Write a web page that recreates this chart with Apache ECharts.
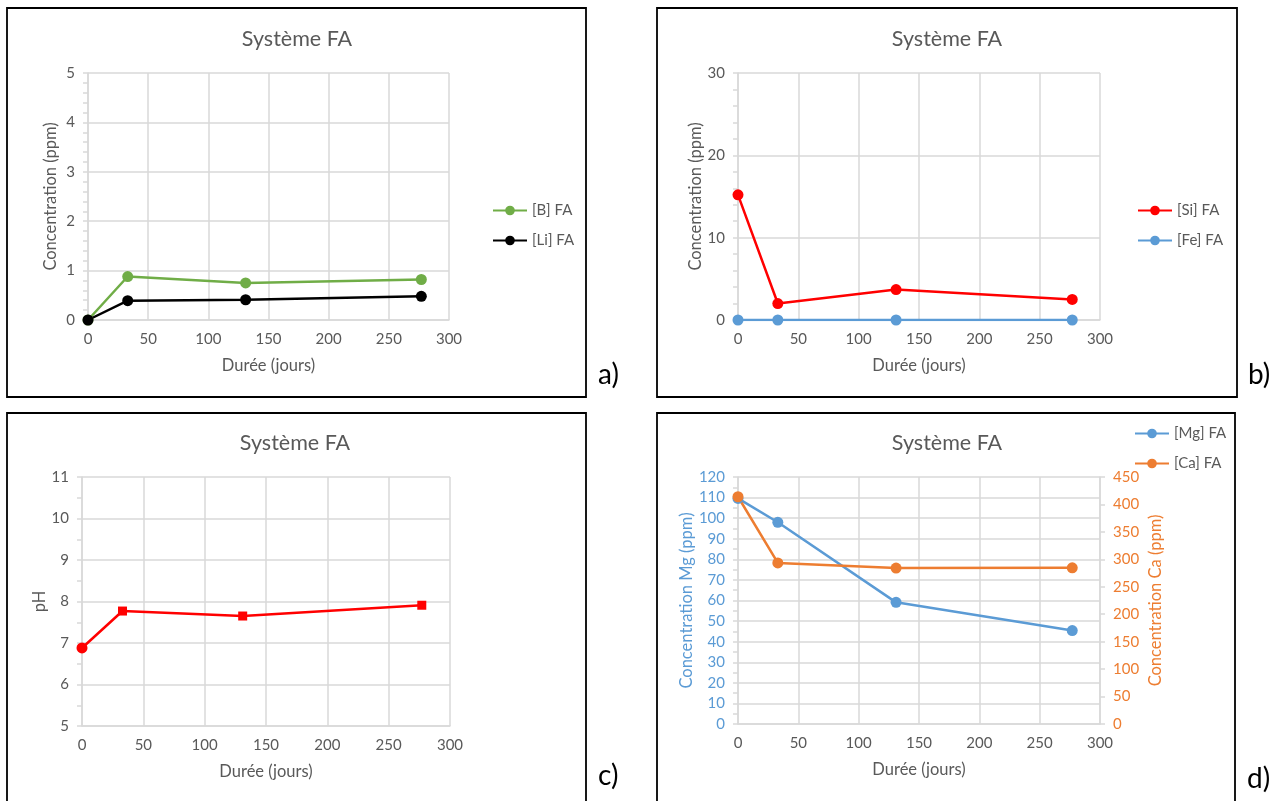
<!DOCTYPE html>
<html><head><meta charset="utf-8">
<script src="https://cdn.jsdelivr.net/npm/echarts@6/dist/echarts.min.js"></script>
<style>html,body{margin:0;padding:0;background:#fff}#c{width:1282px;height:801px}</style>
</head><body><div id="c"></div>
<script>
// ---- data ----
const days = [0, 33, 131, 277];
const xTicks = [0, 50, 100, 150, 200, 250, 300];
const boronFA = [0, 0.88, 0.75, 0.82];
const lithiumFA = [0, 0.39, 0.41, 0.48];
const siliconFA = [15.2, 2.0, 3.7, 2.5];
const ironFA = [0, 0, 0, 0];
const pHFA = [6.88, 7.77, 7.65, 7.91];
const pHSymbols = ['circle', 'rect', 'rect', 'rect'];
const magnesiumFA = [109.6, 98.0, 59.1, 45.4];
const calciumFA = [414, 293.5, 284, 284.5];
const panelTitle = 'Système FA';
const panelLetters = ['a)', 'b)', 'c)', 'd)'];

const pair = (xs, ys) => xs.map((x, i) => [x, ys[i]]);
const FONT = 'Lato, "Open Sans", sans-serif';
const GRAY = '#595959', GRID = '#D9D9D9';
const GREEN = '#70AD47', BLACK = '#000000', RED = '#FF0000', BLUE = '#5B9BD5', ORANGE = '#ED7D31';
const TICK_FS = 15, NAME_FS = 16.5;

function xAxis(g) {
  return {type: 'value', gridIndex: g, min: 0, max: 300, interval: 50,
    name: 'Durée (jours)', nameLocation: 'middle', nameGap: 37,
    nameTextStyle: {color: GRAY, fontSize: NAME_FS, fontFamily: FONT},
    axisLine: {show: true, lineStyle: {color: GRID, width: 1.5}},
    axisTick: {show: false},
    axisLabel: {color: GRAY, fontSize: TICK_FS, fontFamily: FONT, margin: 12},
    splitLine: {show: true, lineStyle: {color: GRID, width: 1.5}}};
}
function yAxis(g, max, interval, minorSplit, name, gap, opts) {
  opts = opts || {};
  const col = opts.color || GRAY;
  return Object.assign({type: 'value', gridIndex: g, min: opts.min || 0, max: max, interval: interval,
    name: name, nameLocation: 'middle', nameGap: gap,
    nameTextStyle: {color: col, fontSize: NAME_FS, fontFamily: FONT},
    axisLine: {show: true, lineStyle: {color: GRID, width: 1.5}},
    axisTick: {show: true, length: 5, lineStyle: {color: GRID, width: 1.5}},
    minorTick: {show: minorSplit > 1, splitNumber: minorSplit, length: 5, lineStyle: {color: GRID, width: 1.5}},
    axisLabel: {color: col, fontSize: TICK_FS, fontFamily: FONT, margin: 13},
    splitLine: {show: true, lineStyle: {color: GRID, width: 1.5}}}, opts.extra || {});
}
function lineSeries(name, data, color, xi, yi, extra) {
  return Object.assign({type: 'line', name: name, data: data, xAxisIndex: xi, yAxisIndex: yi,
    symbol: 'circle', symbolSize: 11, color: color,
    lineStyle: {color: color, width: 2.5}, itemStyle: {color: color}, z: 3}, extra || {});
}
function title(cx, top) {
  return {text: panelTitle, left: cx, top: top, textAlign: 'center',
    textStyle: {color: GRAY, fontSize: 21.5, fontWeight: 'normal', fontFamily: FONT}};
}
function legend(names, left, top) {
  return {data: names, orient: 'vertical', left: left, top: top, itemWidth: 34, itemHeight: 12, itemGap: 15,
    textStyle: {color: GRAY, fontSize: TICK_FS, fontFamily: FONT}};
}

const chart = echarts.init(document.getElementById('c'));
const boxes = [[7, 8, 579, 389], [657, 8, 580, 389], [7, 413, 579, 400], [657, 413, 578, 400]];
const letterPos = [[598, 361], [1248, 361], [598, 762], [1247, 765]];
const graphics = boxes.map(b => ({type: 'rect', shape: {x: b[0], y: b[1], width: b[2], height: b[3]},
  style: {fill: 'none', stroke: '#000', lineWidth: 1.8}, silent: true}))
  .concat(panelLetters.map((t, i) => ({type: 'text', x: letterPos[i][0], y: letterPos[i][1],
    style: {text: t, fill: '#000', font: '28px ' + FONT}})));

chart.setOption({
  animation: false,
  backgroundColor: '#fff',
  textStyle: {fontFamily: FONT},
  title: [title(292, 23), title(942, 23), title(290, 427), title(942, 427)],
  legend: [legend(['[B] FA', '[Li] FA'], 487, 198), legend(['[Si] FA', '[Fe] FA'], 1132, 198),
           legend(['[Mg] FA', '[Ca] FA'], 1129, 421)],
  grid: [
    {left: 88, top: 73, width: 361, height: 247},
    {left: 738, top: 73, width: 362, height: 247},
    {left: 82, top: 477, width: 368, height: 249},
    {left: 738, top: 477, width: 362, height: 247}
  ],
  xAxis: [xAxis(0), xAxis(1), xAxis(2), xAxis(3)],
  yAxis: [
    yAxis(0, 5, 1, 5, 'Concentration (ppm)', 29),
    yAxis(1, 30, 10, 5, 'Concentration (ppm)', 29),
    yAxis(2, 11, 1, 2, 'pH', 34, {min: 5}),
    yAxis(3, 120, 10, 2, 'Concentration Mg (ppm)', 43, {color: BLUE}),
    yAxis(3, 450, 50, 0, 'Concentration Ca (ppm)', 47, {color: ORANGE,
      extra: {position: 'right', splitLine: {show: false}}})
  ],
  series: [
    lineSeries('[B] FA', pair(days, boronFA), GREEN, 0, 0),
    lineSeries('[Li] FA', pair(days, lithiumFA), BLACK, 0, 0),
    lineSeries('[Si] FA', pair(days, siliconFA), RED, 1, 1),
    lineSeries('[Fe] FA', pair(days, ironFA), BLUE, 1, 1),
    lineSeries('pH', days.map((d, i) => ({value: [d, pHFA[i]], symbol: pHSymbols[i],
      symbolSize: pHSymbols[i] === 'circle' ? 11 : 9})), RED, 2, 2),
    lineSeries('[Mg] FA', pair(days, magnesiumFA), BLUE, 3, 3),
    lineSeries('[Ca] FA', pair(days, calciumFA), ORANGE, 3, 4)
  ],
  graphic: graphics
});
</script></body></html>
